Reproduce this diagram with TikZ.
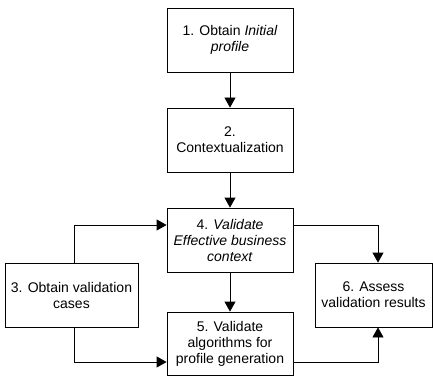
\documentclass[tikz,border=0pt]{standalone}
\usepackage{fontspec}
\setmainfont{Liberation Sans}
\usetikzlibrary{arrows.meta}
\begin{document}
\begin{tikzpicture}[x=1pt,y=-1pt,
  box/.style={draw=black,line width=0.8pt,align=center,inner sep=1pt,
    font=\fontsize{14}{16}\selectfont,minimum height=64pt},
  arr/.style={draw=black,line width=0.8pt,-{Triangle[length=10pt,width=11pt]}}]
\useasboundingbox (0,0) rectangle (433,377);
\node[box,minimum width=126pt] (b1) at (230,40) {1. Obtain \textit{Initial}\\\textit{profile}};
\node[box,minimum width=126pt] (b2) at (230,140) {2.\\Contextualization};
\node[box,minimum width=126pt] (b4) at (230,240) {4. \textit{Validate}\\\textit{Effective business}\\\textit{context}};
\node[box,minimum width=126pt,minimum height=63pt] (b5) at (230,343.5) {5. Validate\\algorithms for\\profile generation};
\node[box,minimum width=133pt] (b3) at (71.5,295) {3. Obtain validation\\cases};
\node[box,minimum width=117pt] (b6) at (373.5,295) {6. Assess\\validation results};
\coordinate (top) at (0,225);
\coordinate (bot) at (0,362);
\coordinate (lx) at (74,0);
\coordinate (rx) at (378,0);
\draw[arr] (b1) -- (b2);
\draw[arr] (b2) -- (b4);
\draw[arr] (b4) -- (b5);
\draw[arr] (b3.north -| lx) |- (b4.west |- top);
\draw[arr] (b3.south -| lx) |- (b5.west |- bot);
\draw[arr] (b4.east |- top) -| (b6.north -| rx);
\draw[arr] (b5.east |- bot) -| (b6.south -| rx);
\end{tikzpicture}
\end{document}
